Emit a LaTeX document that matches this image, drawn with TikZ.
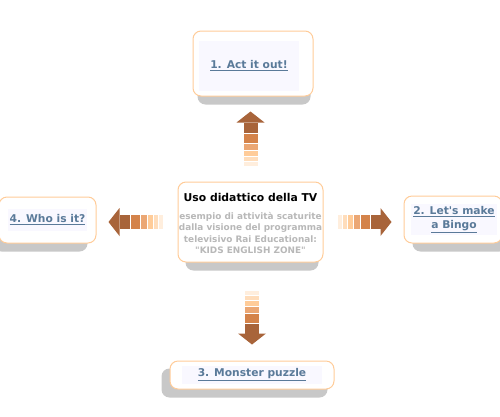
\documentclass[tikz,border=0pt]{standalone}
\usepackage{fontspec}
\setmainfont{DejaVu Sans}
\usepackage{tikz}
\usetikzlibrary{positioning, backgrounds}

\definecolor{boxborder}{HTML}{FFCC99}
\definecolor{shadowgray}{HTML}{C8C8C8}
\definecolor{linkblue}{HTML}{5A7A99}
\definecolor{linkbg}{HTML}{F9F8FF}
\definecolor{subgray}{HTML}{B8B8B8}
\definecolor{arrowdark}{HTML}{A8643A}
\definecolor{arrowmid}{HTML}{D4834A}
\definecolor{arrowlight}{HTML}{EBA774}
\definecolor{arrowpeach}{HTML}{FFCC99}
\definecolor{arrowpale}{HTML}{FFDDBB}
\definecolor{arrowpalest}{HTML}{FFEEDD}

\begin{document}
\begin{tikzpicture}[x=1pt, y=-1pt,
        box/.style={draw=boxborder, fill=white, rounded corners=8pt, line width=1pt, inner sep=0pt},
        lbl/.style={fill=linkbg, text=linkblue, font=\fontsize{10.7}{14}\selectfont\bfseries, align=center, inner sep=2pt},
        shadow/.style={fill=shadowgray, rounded corners=8pt},
        stripes/.pic={
            \fill[arrowpalest] (0,-7) rectangle (4,7);
            \fill[arrowpale] (5,-7) rectangle (9,7);
            \fill[arrowpeach] (10,-7) rectangle (15,7);
            \fill[arrowlight] (16,-7) rectangle (22,7);
            \fill[arrowmid] (23,-7) rectangle (32,7);
            \fill[arrowdark] (33,-7) rectangle (43,7);
            \fill[arrowdark] (43,-14) -- (54,0) -- (43,14) -- cycle;
        }]

        \useasboundingbox (0,0) rectangle (500,416);

        \node[box, minimum width=145pt, minimum height=80pt] at (250.5,222) (tv) {};
        \node[font=\fontsize{10.8}{13}\selectfont\bfseries, inner sep=0pt] at ([yshift=-16pt]tv.north) (tvtitle) {Uso didattico della TV};
        \node[text=subgray, font=\fontsize{8.9}{11.5}\selectfont\bfseries, align=center, inner sep=0pt] at ([yshift=-11pt]tv.center) (tvsub)
            {esempio di attività scaturite\\dalla visione del programma\\televisivo Rai Educational:\\\textquotedbl KIDS ENGLISH ZONE\textquotedbl};

        \node[box, minimum width=120pt, minimum height=65pt, above=85pt of tv, xshift=2.5pt] (act) {};
        \node[lbl, minimum width=100pt, minimum height=50pt] at ([xshift=-4pt, yshift=-2pt]act.center) (actlbl) {\underline{1. Act it out!}};

        \node[box, minimum width=98pt, minimum height=47pt, right=80pt of tv, yshift=2.5pt] (bingo) {};
        \node[lbl, minimum height=24pt] at ([xshift=1pt]bingo.center) (bingolbl) {\underline{2. Let\textquotesingle s make}\\\underline{a Bingo}};

        \node[box, minimum width=164pt, minimum height=28pt, below=98pt of tv, xshift=1.5pt] (puzzle) {};
        \node[lbl, minimum width=140pt, minimum height=18pt] at (puzzle.center) (puzzlelbl) {\underline{3. Monster puzzle}};

        \node[box, minimum width=97pt, minimum height=46pt, left=81pt of tv, yshift=2pt] (who) {};
        \node[lbl, minimum height=22pt] at (who.center) (wholbl) {\underline{4. Who is it?}};

        \begin{scope}[on background layer]
            \fill[shadow] ([shift={(5pt,-8pt)}]act.south west) rectangle ([shift={(-3pt,-8pt)}]act.north east);
            \fill[shadow] ([shift={(8pt,-8pt)}]tv.south west) rectangle ([shift={(-5pt,-8pt)}]tv.north east);
            \fill[shadow] ([shift={(9pt,-8pt)}]bingo.south west) rectangle ([shift={(5pt,-8pt)}]bingo.north east);
            \fill[shadow] ([shift={(-8pt,-8pt)}]puzzle.south west) rectangle ([shift={(-7pt,-8pt)}]puzzle.north east);
            \fill[shadow] ([shift={(-5pt,-8pt)}]who.south west) rectangle ([shift={(-9pt,-8pt)}]who.north east);
        \end{scope}

        \pic[rotate=90] at ([yshift=16pt]tv.north) {stripes};
        \pic at ([xshift=14pt]tv.east) {stripes};
        \pic[rotate=-90] at ([xshift=1.5pt, yshift=-28pt]tv.south) {stripes};
        \pic[rotate=180] at ([xshift=-15pt]tv.west) {stripes};

\end{tikzpicture}
\end{document}
